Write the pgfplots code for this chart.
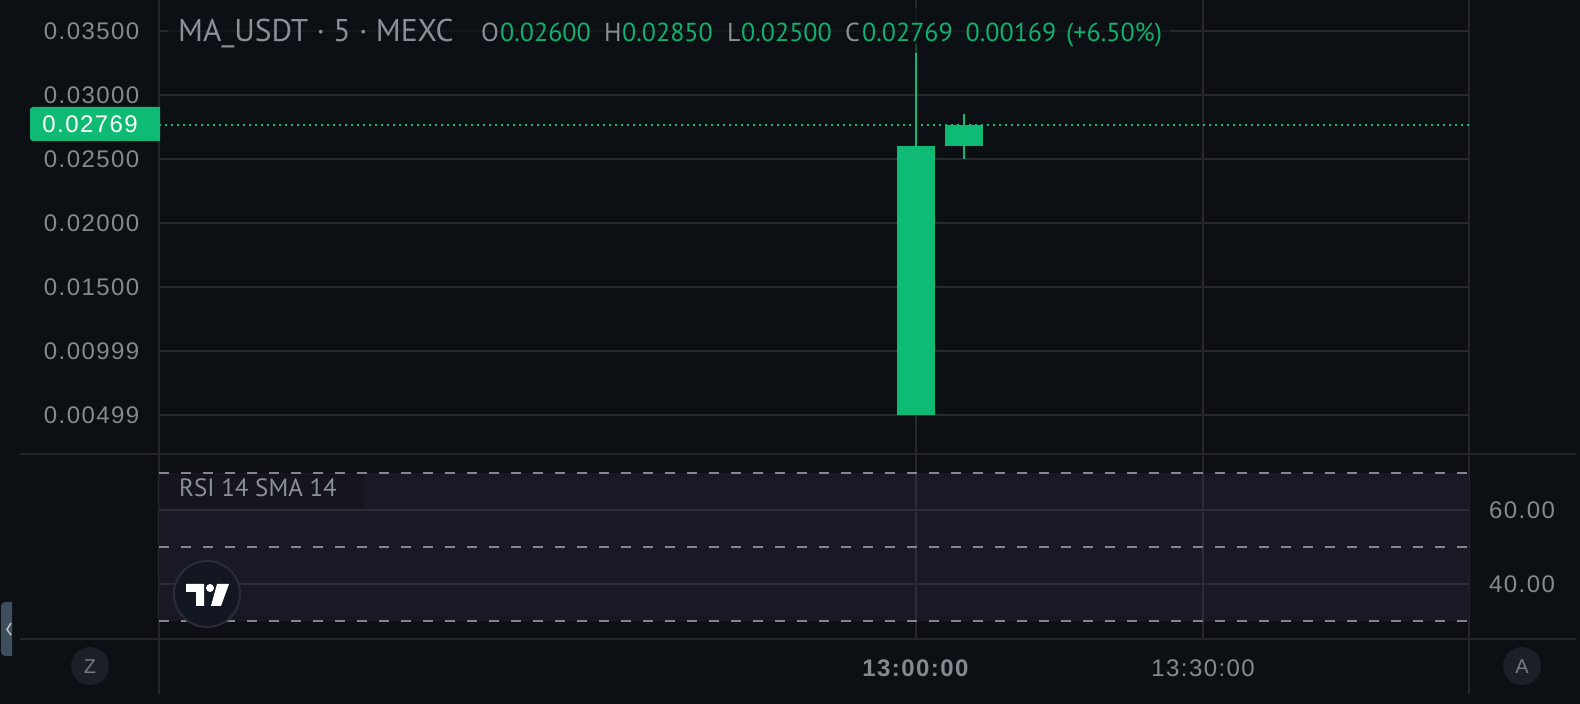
\documentclass[border=0pt]{standalone}
\usepackage{pgfplots}
\usepackage{fontspec}
\pgfplotsset{compat=1.18}
\setmainfont{Liberation Sans}
\newfontfamily\legfont{PT Sans}
\newfontfamily\tickf[LetterSpace=6]{Liberation Sans}
\definecolor{bg}{HTML}{0C0F14}
\definecolor{gridc}{HTML}{26282C}
\definecolor{axc}{HTML}{24262B}
\definecolor{band}{HTML}{191825}
\definecolor{bandgrid}{HTML}{2C2B38}
\definecolor{dashc}{HTML}{85858F}
\definecolor{tickc}{HTML}{868A90}
\definecolor{legc}{HTML}{8A9098}
\definecolor{up}{HTML}{0FBB74}
\definecolor{legup}{HTML}{10B06E}
\newcommand{\tickfont}{\tickf\fontsize{24}{24}\selectfont}
\newcommand{\legnum}{\legfont\fontsize{26}{26}\selectfont}
\begin{document}
\begin{tikzpicture}[x=1pt,y=1pt]
\path[use as bounding box,fill=bg] (0,0) rectangle (1580,704);
\begin{scope}[shift={(0pt,704pt)},y=-1pt]
\foreach \x in {159,1469} \draw[axc,line width=2pt] (\x,0)--(\x,694);
\foreach \y in {454,639} \draw[axc,line width=2pt] (20,\y)--(1576,\y);
\end{scope}
% RSI pane
\begin{axis}[at={(159pt,65pt)},anchor=south west,width=1310pt,height=185pt,scale only axis,
  xmin=-79.13,xmax=57.8,ymin=25.14,ymax=75.14,
  axis line style={draw=none},tick style={draw=none},
  xtick={0,30},xticklabels={\textbf{13:00:00},13:30:00},
  ytick={40,60},yticklabels={40.00,60.00},yticklabel pos=right,
  ticklabel style={font=\tickfont,text=tickc,inner sep=0pt},
  xticklabel style={anchor=center,yshift=-29pt},
  yticklabel style={anchor=center,xshift=53pt},
  grid=major,grid style={draw=gridc,line width=2pt},clip=false]
\addplot[draw=none,fill=band] coordinates {(-79.13,30)(57.8,30)(57.8,70)(-79.13,70)} -- cycle;
\addplot[bandgrid,line width=2pt] coordinates {(-79.13,60)(57.8,60)};
\addplot[bandgrid,line width=2pt] coordinates {(-79.13,40)(57.8,40)};
\addplot[bandgrid,line width=2pt] coordinates {(0,30)(0,70)};
\addplot[bandgrid,line width=2pt] coordinates {(30,30)(30,70)};
\addplot[dashc,line width=2pt,dash pattern=on 10pt off 12pt] coordinates {(-79.13,70)(57.8,70)};
\addplot[dashc,line width=2pt,dash pattern=on 10pt off 12pt] coordinates {(-79.13,50)(57.8,50)};
\addplot[dashc,line width=2pt,dash pattern=on 10pt off 12pt] coordinates {(-79.13,30)(57.8,30)};
\end{axis}
% Main pane
\begin{axis}[at={(159pt,250pt)},anchor=south west,width=1310pt,height=454pt,scale only axis,
  xmin=-79.13,xmax=57.8,ymin=0.00195,ymax=0.03742,
  axis line style={draw=none},tick style={draw=none},
  xtick={0,30},xticklabels={},
  scaled y ticks=false,
  ytick={0.00499,0.00999,0.015,0.02,0.025,0.03,0.035},
  yticklabels={0.00499,0.00999,0.01500,0.02000,0.02500,0.03000,0.03500},
  yticklabel style={font=\tickfont,text=tickc,inner sep=0pt,anchor=east,xshift=-19.5pt},
  grid=major,grid style={draw=gridc,line width=2pt},clip=false]
\addplot[up,line width=2pt] coordinates {(0,0.026)(0,0.0340)};
\addplot[up,line width=2pt] coordinates {(5,0.025)(5,0.0285)};
\addplot[up,line width=2pt,dash pattern=on 2pt off 4pt] coordinates {(-79.13,0.02769)(57.8,0.02769)};
\addplot[draw=none,fill=up] coordinates {(-1.986,0.00499)(1.986,0.00499)(1.986,0.026)(-1.986,0.026)} -- cycle;
\addplot[draw=none,fill=up] coordinates {(3.014,0.026)(6.986,0.026)(6.986,0.02769)(3.014,0.02769)} -- cycle;
\end{axis}
\begin{scope}[shift={(0pt,704pt)},y=-1pt]
% legend veil
\fill[bg,opacity=0.65] (168,8) rectangle (1170,53);
\node[anchor=base west,inner sep=0,text=legc,font=\legfont\fontsize{31.5}{32}\selectfont] at (178,42) {MA\_USDT · 5 · MEXC};
\foreach \x/\t/\c in {481/O/legc,500/0.02600/legup,604/H/legc,622/0.02850/legup,727/L/legc,741/0.02500/legup,845/C/legc,862/0.02769/legup,965.5/0.00169/legup,1066/(+6.50\%)/legup}
  \node[anchor=base west,inner sep=0,text=\c,font=\legnum] at (\x,42) {\t};
% price tag
\fill[up] (160,107) [rounded corners=3pt] -- (30,107) -- (30,141) [sharp corners] -- (160,141) -- cycle;
\node[anchor=east,inner sep=0,text=white,font=\tickfont] at (138,124.5) {0.02769};
% RSI title
\fill[band!70!bg] (160,474) rectangle (364,509);
\node[anchor=base west,inner sep=0,text=legc,font=\legfont\fontsize{25}{25}\selectfont] at (179,497) {RSI 14 SMA 14};
% TV logo
\definecolor{logobg}{HTML}{131722}
\fill[fill=logobg,draw=bandgrid,line width=2pt] (207,594) circle (33);
\fill[white] (186,584)--(204,584)--(204,606)--(196,606)--(196,592)--(186,592)--cycle;
\fill[white] (210,588) circle (4);
\fill[white] (217,584)--(229,584)--(221,606)--(211,606)--cycle;
% Z / A buttons
\definecolor{btn}{HTML}{1C1F28}
\fill[btn] (90,666) circle (19);
\fill[btn] (1522,666) circle (19);
\node[text=tickc!85!btn,font=\fontsize{20}{20}\selectfont] at (90,667) {Z};
\node[text=tickc!85!btn,font=\fontsize{20}{20}\selectfont] at (1522,667) {A};
% side handle
\definecolor{hand}{HTML}{3D4E5C}
\fill[hand] (12,602) [rounded corners=4pt] -- (1,602) -- (1,656) [sharp corners] -- (12,656) -- cycle;
\draw[white!75!bg,line width=1.5pt] (11,623)--(7,629.5)--(11,635);
\end{scope}
\end{tikzpicture}
\end{document}
